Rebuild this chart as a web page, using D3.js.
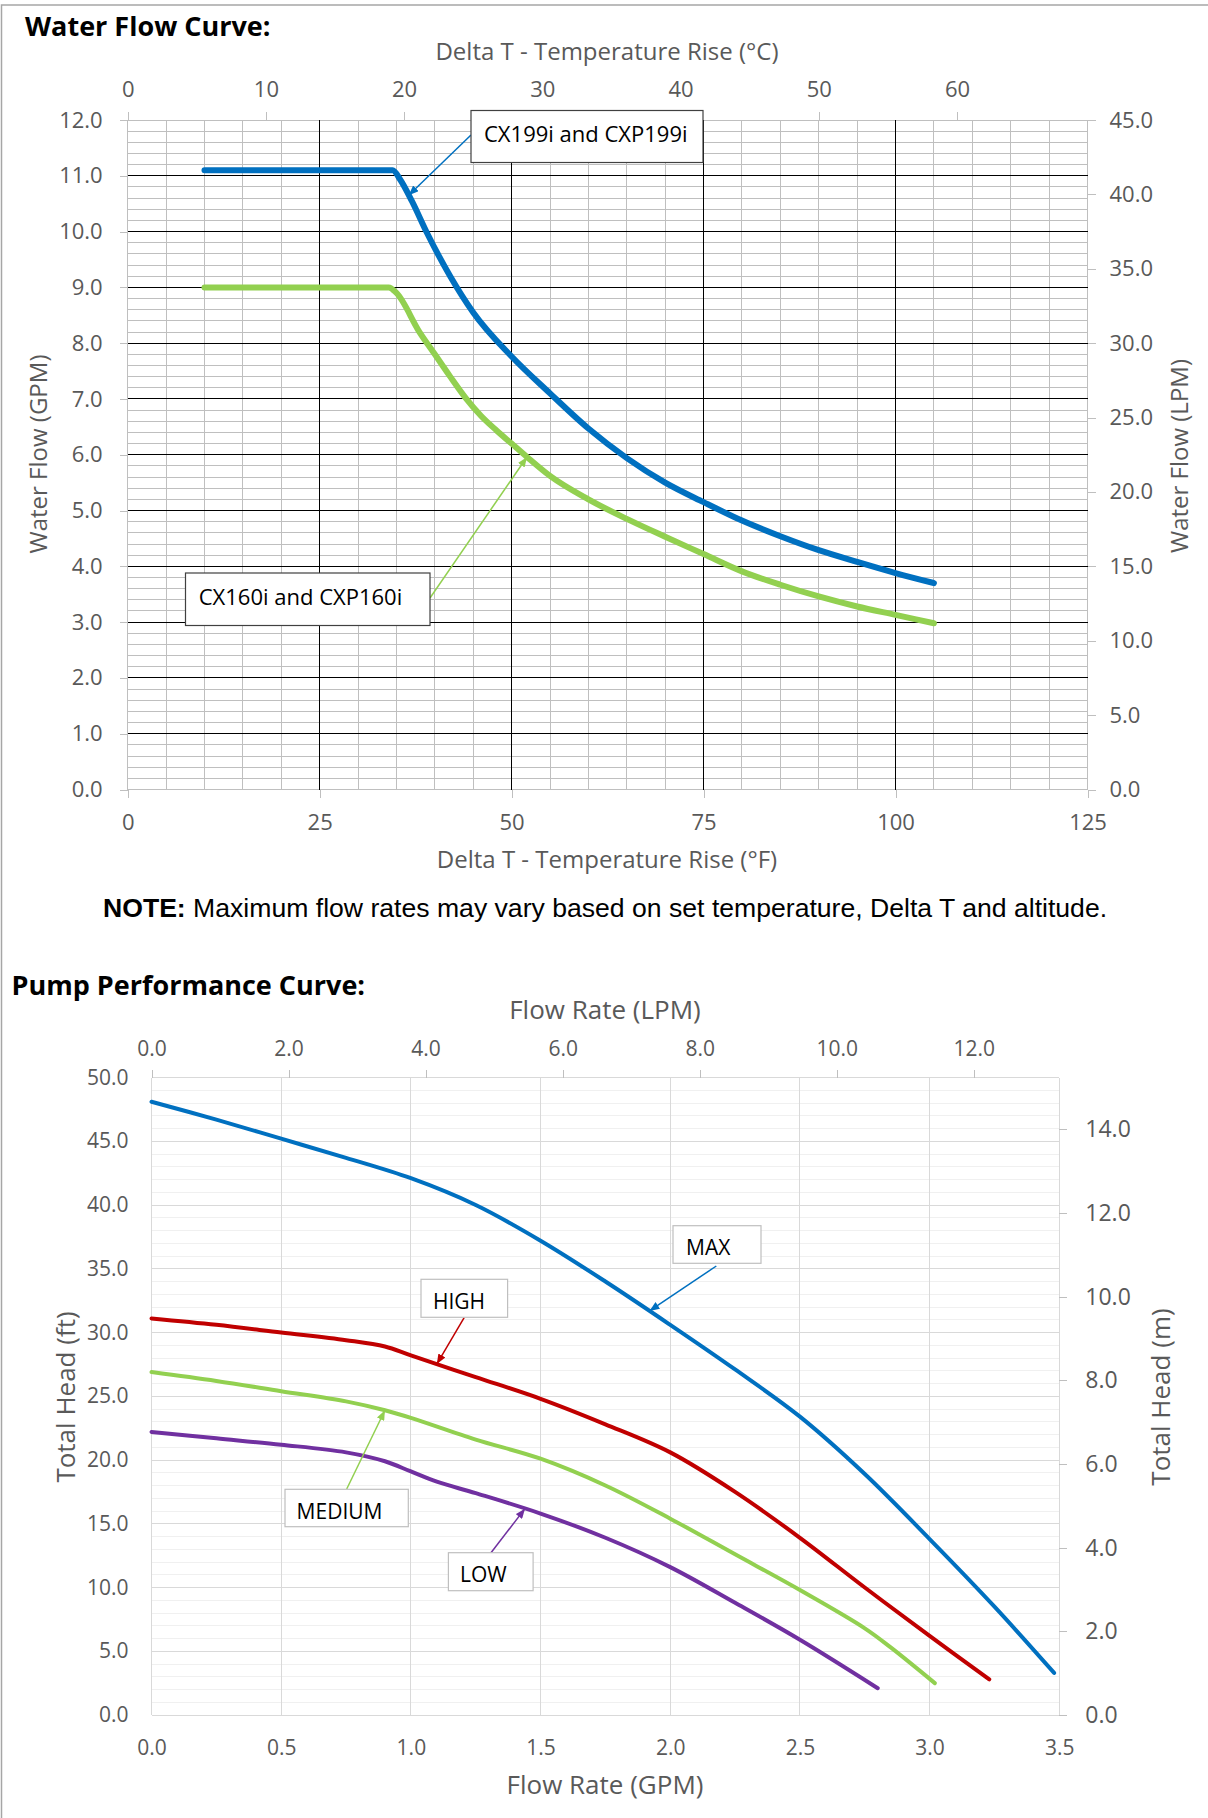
<!DOCTYPE html>
<html>
<head>
<meta charset="utf-8">
<script src="https://cdn.jsdelivr.net/npm/d3@7"></script>
<style>
  html, body { margin: 0; padding: 0; background: #fff; }
  svg { display: block; }
</style>
</head>
<body>
<div id="chart"></div>
<script>
// ---------------------------------------------------------------
// Water flow curve: Delta T (°F) vs. max water flow (GPM)
// ---------------------------------------------------------------
const deltaT199 = [10, 34.5, 35.5, 37, 39, 42, 45, 50, 55, 60, 65, 70, 75, 80, 85, 90, 95, 100, 105];
const flow199   = [11.1, 11.1, 10.93, 10.55, 9.97, 9.2, 8.55, 7.76, 7.1, 6.47, 5.94, 5.5, 5.15, 4.82, 4.54, 4.29, 4.08, 3.88, 3.7];
const deltaT160 = [10, 34, 35, 38, 40, 42, 44, 46, 48, 50, 52, 55, 60, 65, 70, 75, 80, 85, 90, 95, 100, 105];
const flow160   = [9.0, 9.0, 8.9, 8.2, 7.8, 7.4, 7.02, 6.7, 6.44, 6.2, 5.96, 5.62, 5.2, 4.85, 4.53, 4.22, 3.91, 3.67, 3.46, 3.28, 3.13, 2.98];

const wfTicksF   = [0, 25, 50, 75, 100, 125];
const wfTicksC   = [0, 10, 20, 30, 40, 50, 60];
const wfTicksGPM = [0, 1, 2, 3, 4, 5, 6, 7, 8, 9, 10, 11, 12];
const wfTicksLPM = [0, 5, 10, 15, 20, 25, 30, 35, 40, 45];

// ---------------------------------------------------------------
// Pump performance curve: flow (GPM) vs. total head (ft)
// ---------------------------------------------------------------
const maxGPM  = [0, 0.25, 0.5, 0.75, 1.0, 1.25, 1.5, 1.75, 2.0, 2.25, 2.5, 2.75, 3.0, 3.25, 3.48];
const maxHead = [48.1, 46.7, 45.2, 43.7, 42.1, 40.0, 37.2, 34.0, 30.6, 27.1, 23.4, 18.9, 13.8, 8.5, 3.3];
const highGPM  = [0, 0.25, 0.5, 0.75, 0.9, 1.0, 1.25, 1.5, 1.75, 2.0, 2.25, 2.5, 2.75, 3.0, 3.23];
const highHead = [31.1, 30.6, 30.0, 29.4, 28.9, 28.2, 26.5, 24.8, 22.8, 20.6, 17.5, 13.9, 10.0, 6.2, 2.8];
const medGPM  = [0, 0.25, 0.5, 0.75, 0.9, 1.0, 1.25, 1.5, 1.75, 2.0, 2.25, 2.5, 2.75, 2.85, 3.02];
const medHead = [26.9, 26.2, 25.4, 24.6, 23.9, 23.3, 21.6, 20.1, 18.0, 15.4, 12.6, 9.8, 6.8, 5.3, 2.5];
const lowGPM  = [0, 0.25, 0.5, 0.75, 0.9, 1.0, 1.1, 1.25, 1.5, 1.75, 2.0, 2.25, 2.5, 2.8];
const lowHead = [22.2, 21.7, 21.2, 20.6, 19.9, 19.1, 18.3, 17.4, 15.8, 13.9, 11.6, 8.8, 5.9, 2.1];

const ppTicksGPM = [0, 0.5, 1.0, 1.5, 2.0, 2.5, 3.0, 3.5];
const ppTicksLPM = [0, 2, 4, 6, 8, 10, 12];
const ppTicksFt  = [0, 5, 10, 15, 20, 25, 30, 35, 40, 45, 50];
const ppTicksM   = [0, 2, 4, 6, 8, 10, 12, 14];

const FONT = "'Open Sans', sans-serif";
const GREY_TEXT = '#595959';
const fmt1 = d3.format('.1f');
const zip = (xs, ys) => xs.map((x, i) => [x, ys[i]]);

const svg = d3.select('#chart').append('svg')
    .attr('width', 1208)
    .attr('height', 1818);

// Arrow heads for the callouts
const defs = svg.append('defs');
[['blue', '#0070C0'], ['green', '#92D050'], ['red', '#C00000'], ['purple', '#7030A0']].forEach(([id, c]) => {
    defs.append('marker')
        .attr('id', 'arrow-' + id)
        .attr('viewBox', '0 0 10 8')
        .attr('refX', 10)
        .attr('refY', 4)
        .attr('markerWidth', 10)
        .attr('markerHeight', 8)
        .attr('markerUnits', 'userSpaceOnUse')
        .attr('orient', 'auto')
        .append('path')
        .attr('d', 'M0,0L10,4L0,8Z')
        .attr('fill', c);
});

// Page frame (top and left edge)
svg.append('path')
    .attr('d', 'M1.5,1818V5H1208')
    .attr('fill', 'none')
    .attr('stroke', '#a6a6a6')
    .attr('stroke-width', 1.5);

function styleAxis(g, size) {
    g.select('.domain').remove();
    g.selectAll('.tick line').attr('stroke', '#bfbfbf').attr('shape-rendering', 'crispEdges');
    g.selectAll('.tick text')
        .attr('fill', GREY_TEXT)
        .attr('font-family', FONT)
        .attr('font-size', size);
}

function text(x, y, str, size, opts = {}) {
    const t = svg.append('text')
        .attr('x', x)
        .attr('y', y)
        .attr('font-family', opts.family || FONT)
        .attr('font-size', size)
        .attr('font-weight', opts.weight || 400)
        .attr('fill', opts.fill || GREY_TEXT)
        .attr('text-anchor', opts.anchor || 'start')
        .text(str);
    if (opts.rotate) t.attr('transform', `rotate(${opts.rotate},${x},${y})`);
    return t;
}

// Callout: box + label + arrow pointing at a point on a curve
function callout(box, label, from, to, color, border) {
    const g = svg.append('g');
    g.append('line')
        .attr('x1', from[0]).attr('y1', from[1])
        .attr('x2', to[0]).attr('y2', to[1])
        .attr('stroke', color[1])
        .attr('stroke-width', 1.5)
        .attr('marker-end', `url(#arrow-${color[0]})`);
    g.append('rect')
        .attr('x', box.x).attr('y', box.y)
        .attr('width', box.w).attr('height', box.h)
        .attr('fill', '#fff')
        .attr('stroke', border)
        .attr('stroke-width', 1.2);
    g.append('text')
        .attr('x', box.tx).attr('y', box.ty)
        .attr('font-family', FONT)
        .attr('font-size', box.size)
        .attr('fill', '#000')
        .text(label);
}

// ===============================================================
// Water Flow Curve
// ===============================================================
text(25, 36, 'Water Flow Curve:', 27, { weight: 700, fill: '#000' });

const wf = { left: 127.7, right: 1087.5, top: 120, bottom: 789.5 };
const xF = d3.scaleLinear().domain([0, 125]).range([wf.left, wf.right]);
const xC = d3.scaleLinear().domain([0, 125 * 5 / 9]).range([wf.left, wf.right]);
const yGPM = d3.scaleLinear().domain([0, 12]).range([wf.bottom, wf.top]);
const yLPM = d3.scaleLinear().domain([0, 45]).range([wf.bottom, wf.top]);

const wfGrid = svg.append('g').attr('shape-rendering', 'crispEdges');
const vLines = d3.range(0, 126, 5);
const hLines = d3.range(0, 60.5, 1).map(d => d / 5);   // every 0.2 GPM
const isMajorF = d => d % 25 === 0 && d > 0 && d < 125;
const isMajorG = d => Number.isInteger(d) && d > 0 && d < 12;

// minor (grey) first, then the black major lines on top
wfGrid.selectAll('.vminor').data(vLines.filter(d => !isMajorF(d))).enter()
    .append('line')
    .attr('x1', d => xF(d)).attr('x2', d => xF(d))
    .attr('y1', wf.top).attr('y2', wf.bottom)
    .attr('stroke', '#bfbfbf');
wfGrid.selectAll('.hminor').data(hLines.filter(d => !isMajorG(d))).enter()
    .append('line')
    .attr('x1', wf.left).attr('x2', wf.right)
    .attr('y1', d => yGPM(d)).attr('y2', d => yGPM(d))
    .attr('stroke', '#bfbfbf');
wfGrid.selectAll('.vmajor').data(vLines.filter(isMajorF)).enter()
    .append('line')
    .attr('x1', d => xF(d)).attr('x2', d => xF(d))
    .attr('y1', wf.top).attr('y2', wf.bottom)
    .attr('stroke', '#000');
wfGrid.selectAll('.hmajor').data(hLines.filter(isMajorG)).enter()
    .append('line')
    .attr('x1', wf.left).attr('x2', wf.right)
    .attr('y1', d => yGPM(d)).attr('y2', d => yGPM(d))
    .attr('stroke', '#000');

// Axes
svg.append('g').attr('transform', `translate(${wf.left},0)`)
    .call(d3.axisLeft(yGPM).tickValues(wfTicksGPM).tickFormat(fmt1).tickSize(8).tickSizeOuter(0).tickPadding(17))
    .call(g => styleAxis(g, 22));
svg.append('g').attr('transform', `translate(${wf.right},0)`)
    .call(d3.axisRight(yLPM).tickValues(wfTicksLPM).tickFormat(fmt1).tickSize(8).tickSizeOuter(0).tickPadding(14))
    .call(g => styleAxis(g, 22));
svg.append('g').attr('transform', `translate(0,${wf.top})`)
    .call(d3.axisTop(xC).tickValues(wfTicksC).tickSize(8).tickSizeOuter(0).tickPadding(15))
    .call(g => styleAxis(g, 22));
svg.append('g').attr('transform', `translate(0,${wf.bottom})`)
    .call(d3.axisBottom(xF).tickValues(wfTicksF).tickSize(8).tickSizeOuter(0).tickPadding(17))
    .call(g => styleAxis(g, 22));

text(607, 60, 'Delta T - Temperature Rise (°C)', 24, { anchor: 'middle' });
text(607, 868, 'Delta T - Temperature Rise (°F)', 24, { anchor: 'middle' });
text(47, 454, 'Water Flow (GPM)', 24, { anchor: 'middle', rotate: -90 });
text(1188, 456, 'Water Flow (LPM)', 24, { anchor: 'middle', rotate: -90 });

// Curves (monotone keeps the flat max-flow sections flat)
const wfLine = d3.line()
    .x(d => xF(d[0]))
    .y(d => yGPM(d[1]))
    .curve(d3.curveMonotoneX);

const wfSeries = [
    { pts: zip(deltaT199, flow199), color: '#0070C0' },
    { pts: zip(deltaT160, flow160), color: '#92D050' }
];
svg.append('g').selectAll('path').data(wfSeries).enter()
    .append('path')
    .attr('d', d => wfLine(d.pts))
    .attr('fill', 'none')
    .attr('stroke', d => d.color)
    .attr('stroke-width', 6)
    .attr('stroke-linecap', 'round')
    .attr('stroke-linejoin', 'round');

// Callouts (arrow tip sits on the curve)
const onCurve = (xs, ys) => d3.scaleLinear().domain(xs).range(ys);
const tip199 = 36.6, tip160 = 52;
callout({ x: 471, y: 110.5, w: 232, h: 52, tx: 484, ty: 142, size: 22 }, 'CX199i and CXP199i',
    [471, 135], [xF(tip199), yGPM(onCurve(deltaT199, flow199)(tip199))], ['blue', '#0070C0'], '#404040');
callout({ x: 185.5, y: 573, w: 244.5, h: 52.5, tx: 198.7, ty: 605, size: 22 }, 'CX160i and CXP160i',
    [430, 598], [xF(tip160), yGPM(onCurve(deltaT160, flow160)(tip160))], ['green', '#92D050'], '#404040');

// Note
const note = svg.append('text')
    .attr('x', 103)
    .attr('y', 917)
    .attr('font-family', "'Liberation Sans', Arial, sans-serif")
    .attr('font-size', 26.6)
    .attr('fill', '#000');
note.append('tspan').attr('font-weight', 700).text('NOTE:');
note.append('tspan').text(' Maximum flow rates may vary based on set temperature, Delta T and altitude.');

// ===============================================================
// Pump Performance Curve
// ===============================================================
text(11.5, 995, 'Pump Performance Curve:', 27, { weight: 700, fill: '#000' });

const pp = { left: 151.5, right: 1059.3, top: 1077.5, bottom: 1715 };
const xGPM = d3.scaleLinear().domain([0, 3.5]).range([pp.left, pp.right]);
const xLPM = d3.scaleLinear().domain([0, 3.5 * 3.785]).range([pp.left, pp.right]);
const yFt = d3.scaleLinear().domain([0, 50]).range([pp.bottom, pp.top]);
const yM = d3.scaleLinear().domain([0, 50 * 0.3048]).range([pp.bottom, pp.top]);

const ppGrid = svg.append('g').attr('shape-rendering', 'crispEdges');
ppGrid.selectAll('.hminor').data(d3.range(1, 50).filter(d => d % 5 !== 0)).enter()
    .append('line')
    .attr('x1', pp.left).attr('x2', pp.right)
    .attr('y1', d => yFt(d)).attr('y2', d => yFt(d))
    .attr('stroke', '#f0f0f0');
ppGrid.selectAll('.hmajor').data(ppTicksFt).enter()
    .append('line')
    .attr('x1', pp.left).attr('x2', pp.right)
    .attr('y1', d => yFt(d)).attr('y2', d => yFt(d))
    .attr('stroke', '#d9d9d9');
ppGrid.selectAll('.vmajor').data(ppTicksGPM).enter()
    .append('line')
    .attr('x1', d => xGPM(d)).attr('x2', d => xGPM(d))
    .attr('y1', pp.top).attr('y2', pp.bottom)
    .attr('stroke', '#d9d9d9');

svg.append('g').attr('transform', `translate(${pp.left},0)`)
    .call(d3.axisLeft(yFt).tickValues(ppTicksFt).tickFormat(fmt1).tickSize(0).tickPadding(23))
    .call(g => styleAxis(g, 21));
svg.append('g').attr('transform', `translate(${pp.right},0)`)
    .call(d3.axisRight(yM).tickValues(ppTicksM).tickFormat(fmt1).tickSize(8).tickSizeOuter(0).tickPadding(18))
    .call(g => styleAxis(g, 23));
svg.append('g').attr('transform', `translate(0,${pp.top})`)
    .call(d3.axisTop(xLPM).tickValues(ppTicksLPM).tickFormat(fmt1).tickSize(8).tickSizeOuter(0).tickPadding(14))
    .call(g => styleAxis(g, 21));
svg.append('g').attr('transform', `translate(0,${pp.bottom})`)
    .call(d3.axisBottom(xGPM).tickValues(ppTicksGPM).tickFormat(fmt1).tickSize(0).tickPadding(25))
    .call(g => styleAxis(g, 21));

text(605, 1019, 'Flow Rate (LPM)', 26, { anchor: 'middle' });
text(605, 1794, 'Flow Rate (GPM)', 26, { anchor: 'middle' });
text(75, 1397, 'Total Head (ft)', 26, { anchor: 'middle', rotate: -90 });
text(1170, 1397, 'Total Head (m)', 26, { anchor: 'middle', rotate: -90 });

const ppLine = d3.line()
    .x(d => xGPM(d[0]))
    .y(d => yFt(d[1]))
    .curve(d3.curveCatmullRom.alpha(0.5));

const ppSeries = [
    { pts: zip(maxGPM, maxHead), color: '#0070C0' },
    { pts: zip(highGPM, highHead), color: '#C00000' },
    { pts: zip(medGPM, medHead), color: '#92D050' },
    { pts: zip(lowGPM, lowHead), color: '#7030A0' }
];
svg.append('g').selectAll('path').data(ppSeries).enter()
    .append('path')
    .attr('d', d => ppLine(d.pts))
    .attr('fill', 'none')
    .attr('stroke', d => d.color)
    .attr('stroke-width', 4)
    .attr('stroke-linecap', 'round')
    .attr('stroke-linejoin', 'round');

const ppTip = (xs, ys, x) => [xGPM(x), yFt(onCurve(xs, ys)(x))];
callout({ x: 673, y: 1225.7, w: 88, h: 37.6, tx: 686, ty: 1255, size: 21 }, 'MAX',
    [716.3, 1266], ppTip(maxGPM, maxHead, 1.92), ['blue', '#0070C0'], '#bfbfbf');
callout({ x: 421, y: 1279.3, w: 86.6, h: 38, tx: 433, ty: 1308.5, size: 21 }, 'HIGH',
    [464.3, 1317.3], ppTip(highGPM, highHead, 1.1), ['red', '#C00000'], '#bfbfbf');
callout({ x: 285, y: 1489.3, w: 123.3, h: 37.4, tx: 296.6, ty: 1518.5, size: 21 }, 'MEDIUM',
    [346.7, 1489], ppTip(medGPM, medHead, 0.9), ['green', '#92D050'], '#bfbfbf');
callout({ x: 448.4, y: 1552.7, w: 84.7, h: 38, tx: 460, ty: 1582, size: 21 }, 'LOW',
    [490.8, 1553], ppTip(lowGPM, lowHead, 1.44), ['purple', '#7030A0'], '#bfbfbf');
</script>
</body>
</html>
